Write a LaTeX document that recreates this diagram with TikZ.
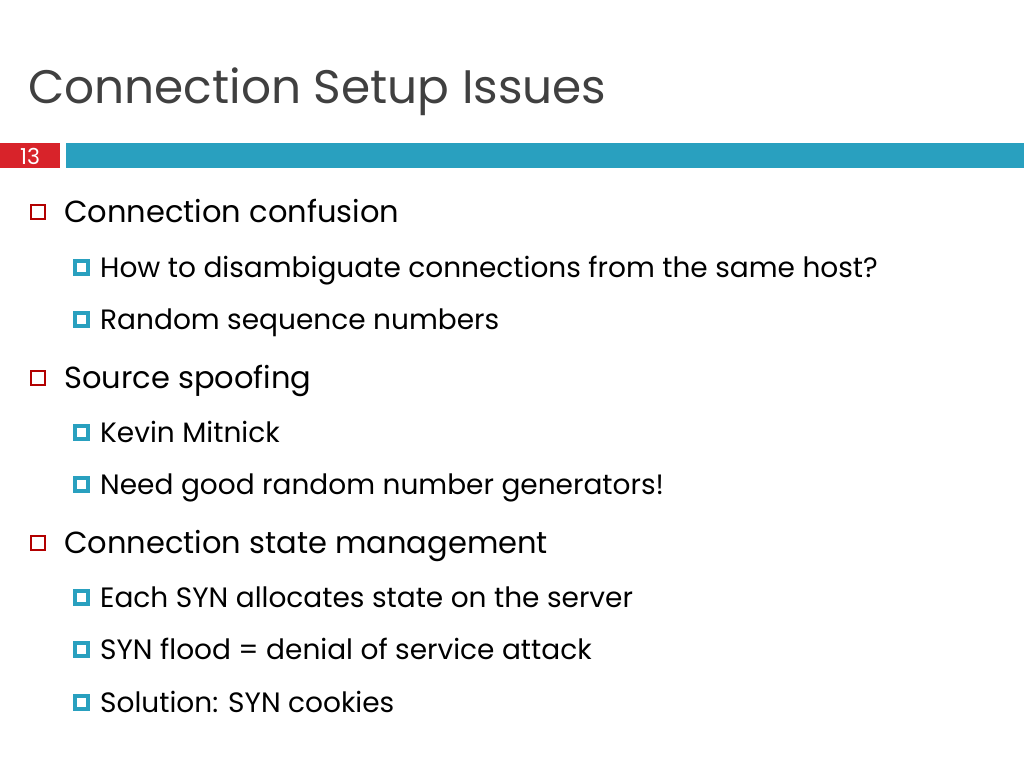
\documentclass[tikz,border=0pt]{standalone}
\usepackage{fontspec}
\setmainfont{Poppins}
\begin{document}
\begin{tikzpicture}[x=1pt,y=-1pt,
  lone/.style={anchor=base west,inner sep=0pt,font=\fontsize{30.5}{30}\selectfont},
  ltwo/.style={anchor=base west,inner sep=0pt,font=\fontsize{28}{28}\selectfont},
  bone/.style={draw=red!70!black,line width=1.3pt,minimum size=14pt,inner sep=0pt},
  btwo/.style={draw={rgb,255:red,41;green,160;blue,191},line width=4pt,fill=white,minimum size=13pt,inner sep=0pt}]
\useasboundingbox (0,0) rectangle (1024,768);
\definecolor{sblue}{RGB}{41,160,191}
\definecolor{sred}{RGB}{216,35,42}
\fill[sred] (0,143) rectangle (60,168);
\fill[sblue] (66,143) rectangle (1024,168);
\node[anchor=center,text=white,font=\fontsize{22}{22}\selectfont] (num) at (30,156) {13};
\node[anchor=base west,inner sep=0pt,text={rgb,255:red,64;green,64;blue,64},font=\fontsize{47}{47}\selectfont] (title) at (28,103) {Connection Setup Issues};
\foreach \y/\t/\n in {222/Connection confusion/a,388/Source spoofing/b,553/Connection state management/c}{
  \node[bone] (b\n) at (38,\y-10) {};
  \node[lone] (t\n) at (64,\y) {\t};
}
\foreach \y/\t/\n in {277/How to disambiguate connections from the same host?/a1,329/Random sequence numbers/a2,442/Kevin Mitnick/b1,494/Need good random number generators!/b2,607/Each SYN allocates state on the server/c1,659/SYN flood = denial of service attack/c2,712/Solution: SYN cookies/c3}{
  \node[btwo] (s\n) at (81,\y-10) {};
  \node[ltwo] (u\n) at (100,\y) {\t};
}
\end{tikzpicture}
\end{document}
